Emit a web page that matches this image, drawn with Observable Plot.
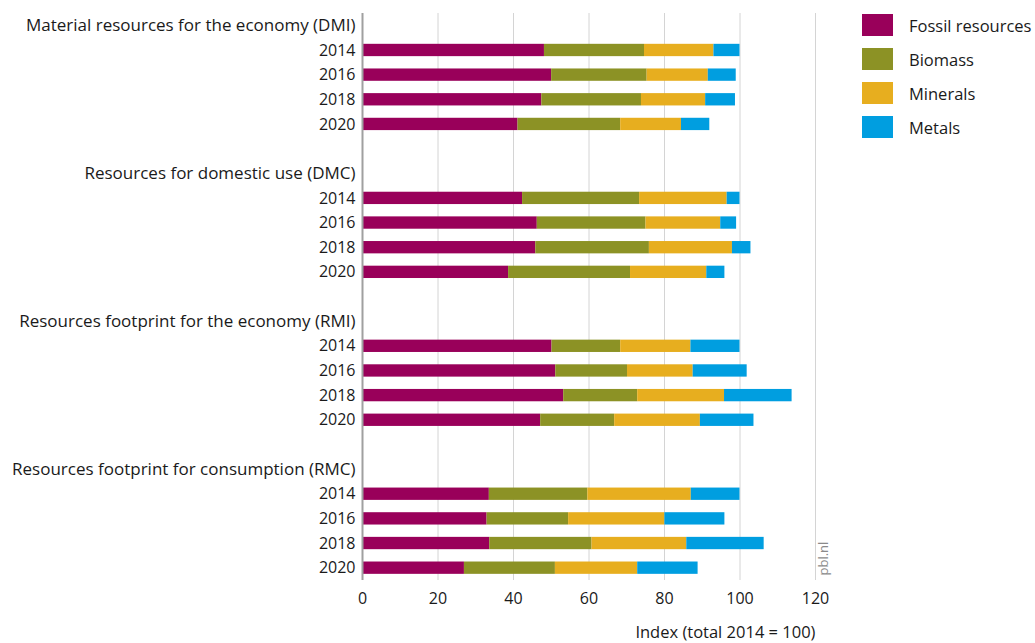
<!DOCTYPE html>
<html>
<head>
<meta charset="utf-8">
<script src="https://cdn.jsdelivr.net/npm/d3@7"></script>
<script src="https://cdn.jsdelivr.net/npm/@observablehq/plot@0.6"></script>
<style>
  html, body { margin: 0; padding: 0; background: #fff; }
  #wrap { position: relative; width: 1035px; height: 643px; font-family: "Open Sans", Lato, sans-serif; color: #1a1a1a; }
  #legend { position: absolute; left: 862px; top: 14px; }
  .item { display: flex; align-items: center; height: 22px; margin-bottom: 12px; font-size: 16.5px; }
  .sw { width: 31px; height: 22px; margin-right: 16px; }
</style>
</head>
<body>
<div id="wrap"><div id="legend"></div></div>
<script>
const groups = [
  "Material resources for the economy (DMI)",
  "Resources for domestic use (DMC)",
  "Resources footprint for the economy (RMI)",
  "Resources footprint for consumption (RMC)"
];
const years = ["2014", "2016", "2018", "2020"];
const categories = ["Fossil resources", "Biomass", "Minerals", "Metals"];
const colors = ["#99005a", "#8c9225", "#e7ae1f", "#009ee0"];
const xTicks = [0, 20, 40, 60, 80, 100, 120];
const xLabel = "Index (total 2014 = 100)";
const credit = "pbl.nl";

// values per group (DMI, DMC, RMI, RMC) x year (2014, 2016, 2018, 2020)
const fossil   = [48.2, 50.1, 47.5, 41.2,  42.4, 46.3, 45.9, 38.7,  50.2, 51.2, 53.3, 47.2,  33.6, 33.0, 33.7, 27.0];
const biomass  = [26.5, 25.3, 26.4, 27.2,  31.0, 28.8, 30.1, 32.3,  18.2, 19.0, 19.6, 19.6,  26.1, 21.6, 27.1, 24.1];
const minerals = [18.4, 16.2, 17.0, 16.1,  23.2, 19.8, 22.0, 20.2,  18.6, 17.4, 23.0, 22.7,  27.4, 25.5, 25.1, 21.8];
const metals   = [ 6.9,  7.4,  7.9,  7.5,   3.4,  4.2,  4.9,  4.8,  13.0, 14.3, 17.9, 14.2,  12.9, 15.9, 20.5, 16.0];
const series = [fossil, biomass, minerals, metals];

const rows = [];
groups.forEach((g, gi) => {
  rows.push({key: `h${gi}`, label: g, kind: "head"});
  years.forEach(y => rows.push({key: `${gi}-${y}`, label: y, kind: "year"}));
  if (gi < groups.length - 1) rows.push({key: `s${gi}`, label: "", kind: "blank"});
});
const labelMap = new Map(rows.map(r => [r.key, r.label]));

const data = [];
groups.forEach((g, gi) => years.forEach((y, yi) => categories.forEach((c, ci) => {
  data.push({row: `${gi}-${y}`, category: c, value: series[ci][gi * 4 + yi]});
})));

const chart = Plot.plot({
  width: 1035,
  height: 643,
  marginLeft: 362,
  marginRight: 220,
  marginTop: 13,
  marginBottom: 63,
  style: {fontFamily: "'Open Sans', Lato, sans-serif", fontSize: "16px", color: "#1a1a1a", background: "transparent"},
  x: {domain: [0, 120]},
  y: {domain: rows.map(r => r.key), paddingInner: 0.5, paddingOuter: 0.25, round: false},
  color: {domain: categories, range: colors},
  marks: [
    Plot.ruleX(xTicks.filter(d => d > 0), {stroke: "#d4d4d4", strokeWidth: 1}),
    Plot.barX(data, {x: "value", y: "row", fill: "category"}),
    Plot.ruleX([0], {stroke: "#a0a0a0", strokeWidth: 2}),
    Plot.axisX({ticks: xTicks, tickSize: 0, tickPadding: 12, label: null}),
    Plot.text([xLabel], {frameAnchor: "bottom-right", textAnchor: "end", lineAnchor: "bottom", dy: 57, fill: "#1a1a1a", fontSize: 16.5}),
    Plot.axisY({ticks: rows.filter(r => r.kind === "year").map(r => r.key), tickSize: 0, tickPadding: 7, tickFormat: k => labelMap.get(k), label: null, fontSize: 16}),
    Plot.axisY({ticks: rows.filter(r => r.kind === "head").map(r => r.key), tickSize: 0, tickPadding: 7, tickFormat: k => labelMap.get(k), label: null, fontSize: 17}),
    Plot.text([credit], {frameAnchor: "bottom-right", rotate: -90, textAnchor: "start", dx: 12, dy: -5, fill: "#8a8a8a", fontSize: 13})
  ]
});
const wrap = document.getElementById("wrap");
wrap.insertBefore(chart, wrap.firstChild);

const legend = document.getElementById("legend");
categories.forEach((c, i) => {
  const it = document.createElement("div");
  it.className = "item";
  const sw = document.createElement("div");
  sw.className = "sw";
  sw.style.background = colors[i];
  const t = document.createElement("span");
  t.textContent = c;
  it.appendChild(sw); it.appendChild(t);
  legend.appendChild(it);
});
</script>
</body>
</html>
